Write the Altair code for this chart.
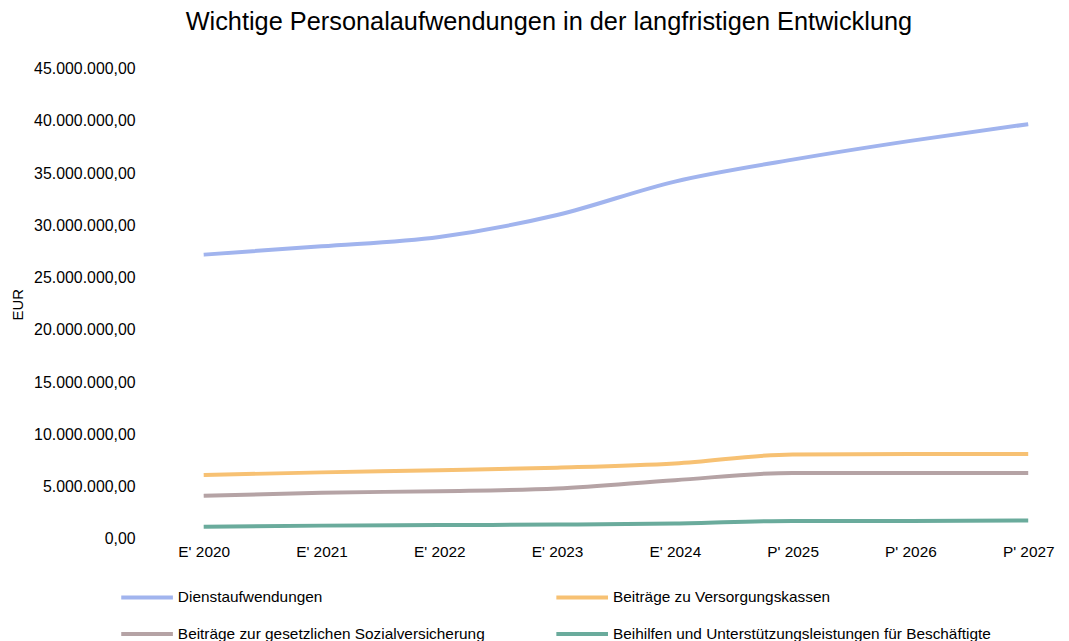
import altair as alt
import pandas as pd

years = ["E' 2020", "E' 2021", "E' 2022", "E' 2023", "E' 2024", "P' 2025", "P' 2026", "P' 2027"]
series_names = [
    "Dienstaufwendungen",
    "Beiträge zu Versorgungskassen",
    "Beiträge zur gesetzlichen Sozialversicherung",
    "Beihilfen und Unterstützungsleistungen für Beschäftigte",
]
dienst = [27200000, 28000000, 28900000, 31000000, 34200000, 36300000, 38100000, 39700000]
versorgung = [6100000, 6350000, 6550000, 6800000, 7200000, 8070000, 8100000, 8100000]
sozial = [4100000, 4400000, 4550000, 4800000, 5600000, 6300000, 6300000, 6300000]
beihilfen = [1150000, 1250000, 1300000, 1350000, 1450000, 1700000, 1700000, 1750000]
y_ticks = [0, 5000000, 10000000, 15000000, 20000000, 25000000, 30000000, 35000000, 40000000, 45000000]
colors = ["#a1b4ee", "#f7c173", "#b5a3a5", "#6aab9c"]

rows = []
for name, vals in zip(series_names, [dienst, versorgung, sozial, beihilfen]):
    for yr, v in zip(years, vals):
        rows.append({"Jahr": yr, "Serie": name, "Wert": v})
df = pd.DataFrame(rows)

FONT = "Liberation Sans"

chart = alt.Chart(df).mark_line(strokeWidth=4, interpolate="monotone").encode(
    x=alt.X("Jahr:N", sort=years, title=None,
            scale=alt.Scale(type="point", range=[60, 890], padding=0),
            axis=alt.Axis(labelAngle=0, domain=False, ticks=False, grid=False,
                          labelFontSize=15.5, labelFont=FONT, labelColor="#000000",
                          labelPadding=6)),
    y=alt.Y("Wert:Q", title="EUR",
            scale=alt.Scale(domain=[0, 45000000], nice=False),
            axis=alt.Axis(values=y_ticks, domain=False, ticks=False, grid=False,
                          labelExpr="datum.value == 0 ? '0,00' : format(datum.value/1000000, 'd') + '.000.000,00'",
                          labelFontSize=16, labelFont=FONT, labelColor="#000000",
                          labelPadding=9,
                          titleFont=FONT, titleFontSize=15, titleFontWeight="normal",
                          titleColor="#000000", titleX=-127, titleY=237,
                          titleAlign="center", titleBaseline="middle", titleAngle=-90)),
    color=alt.Color("Serie:N", sort=series_names,
                    scale=alt.Scale(domain=series_names, range=colors),
                    legend=alt.Legend(title=None, orient="none", legendX=-25, legendY=504,
                                      columns=2, direction="horizontal",
                                      symbolType="stroke", symbolSize=2704,
                                      symbolStrokeWidth=4, labelOffset=3,
                                      columnPadding=63, rowPadding=0, padding=0,
                                      labelFont=FONT, labelFontSize=15.5, labelColor="#000000",
                                      labelLimit=600)),
).properties(
    width=915,
    height=473,
    title=alt.TitleParams("Wichtige Personalaufwendungen in der langfristigen Entwicklung",
                          font=FONT, fontSize=25.5, fontWeight="normal", color="#000000",
                          dx=-50, offset=26),
    autosize=alt.AutoSizeParams(type="none"),
    padding={"left": 137, "top": 59, "right": 8, "bottom": 130},
).configure_view(stroke=None)

chart.save("out.html", embed_options={"renderer": "svg", "actions": False})
